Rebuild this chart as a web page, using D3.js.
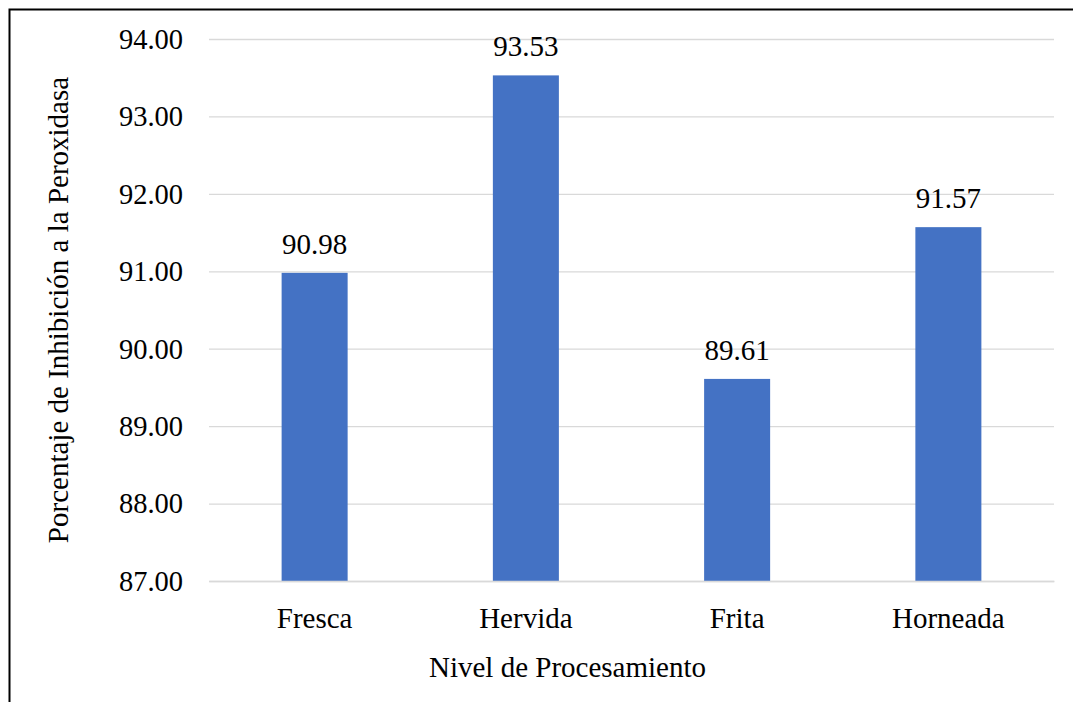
<!DOCTYPE html>
<html>
<head>
<meta charset="utf-8">
<script src="https://d3js.org/d3.v7.min.js"></script>
<style>
  body { margin: 0; background: #fff; }
  text { font-family: 'Liberation Serif', 'Times New Roman', serif; fill: #000; }
</style>
</head>
<body>
<svg id="svg1" width="1073" height="702"></svg>
<script>
var svg = d3.select('#svg1');

var svgWidth = +svg.attr('width');
var svgHeight = +svg.attr('height');

// data
var categories = ['Fresca', 'Hervida', 'Frita', 'Horneada'];
var values = [90.98, 93.53, 89.61, 91.57];
var yTicks = [87, 88, 89, 90, 91, 92, 93, 94];
var yTitle = 'Porcentaje de Inhibición a la Peroxidasa';
var xTitle = 'Nivel de Procesamiento';

var plot = {l: 209, r: 1054, t: 39, b: 581};
var fontSize = 29;
var tickFont = 28.5;

// outer frame, runs off the right and bottom edge
svg.append('rect')
    .attr('x', 9.5)
    .attr('y', 9.5)
    .attr('width', svgWidth + 20)
    .attr('height', svgHeight + 20)
    .style('fill', 'none')
    .style('stroke', '#000')
    .style('stroke-width', 2);

var xScale = d3.scaleBand()
    .domain(categories)
    .range([plot.l, plot.r])
    .paddingInner(0.6875)
    .paddingOuter(0.34375);

var yScale = d3.scaleLinear()
    .domain([87, 94])
    .range([plot.b, plot.t]);

// gridlines + tick labels
var yAxis = d3.axisLeft(yScale)
    .tickValues(yTicks)
    .tickSize(-(plot.r - plot.l))
    .tickPadding(26)
    .tickFormat(d3.format('.2f'));

var gy = svg.append('g')
    .attr('transform', 'translate(' + [plot.l, 0] + ')')
    .call(yAxis);
gy.attr('font-family', null);
gy.select('.domain').remove();
gy.selectAll('.tick line')
    .style('stroke', '#d9d9d9')
    .style('stroke-width', 1.3);
gy.selectAll('.tick text')
    .style('font-size', tickFont + 'px')
    .attr('dy', '0.33em');

var bars = svg.append('g').selectAll('.bar')
    .data(values)
    .enter()
    .append('rect')
    .attr('class', 'bar')
    .attr('x', function(d, i) { return xScale(categories[i]); })
    .attr('y', function(d) { return yScale(d); })
    .attr('width', xScale.bandwidth())
    .attr('height', function(d) { return yScale(87) - yScale(d); })
    .style('fill', '#4472C4');

svg.append('g').selectAll('.val')
    .data(values)
    .enter()
    .append('text')
    .attr('class', 'val')
    .attr('x', function(d, i) { return xScale(categories[i]) + xScale.bandwidth() / 2; })
    .attr('y', function(d) { return yScale(d) - 19; })
    .attr('text-anchor', 'middle')
    .style('font-size', fontSize + 'px')
    .text(function(d) { return d.toFixed(2); });

// x axis labels
var xAxis = d3.axisBottom(xScale).tickSize(0).tickPadding(26);
var gx = svg.append('g')
    .attr('transform', 'translate(' + [0, plot.b] + ')')
    .call(xAxis);
gx.attr('font-family', null);
gx.select('.domain')
    .style('stroke', '#d9d9d9')
    .style('stroke-width', 1.3);
gx.selectAll('.tick text')
    .style('font-size', fontSize + 'px');

svg.append('text')
    .attr('x', (plot.l + plot.r) / 2 - 64)
    .attr('y', 677)
    .attr('text-anchor', 'middle')
    .style('font-size', fontSize + 'px')
    .text(xTitle);

svg.append('text')
    .attr('transform', 'translate(' + [68, (plot.t + plot.b) / 2] + ') rotate(-90)')
    .attr('text-anchor', 'middle')
    .style('font-size', fontSize + 'px')
    .text(yTitle);
</script>
</body>
</html>
